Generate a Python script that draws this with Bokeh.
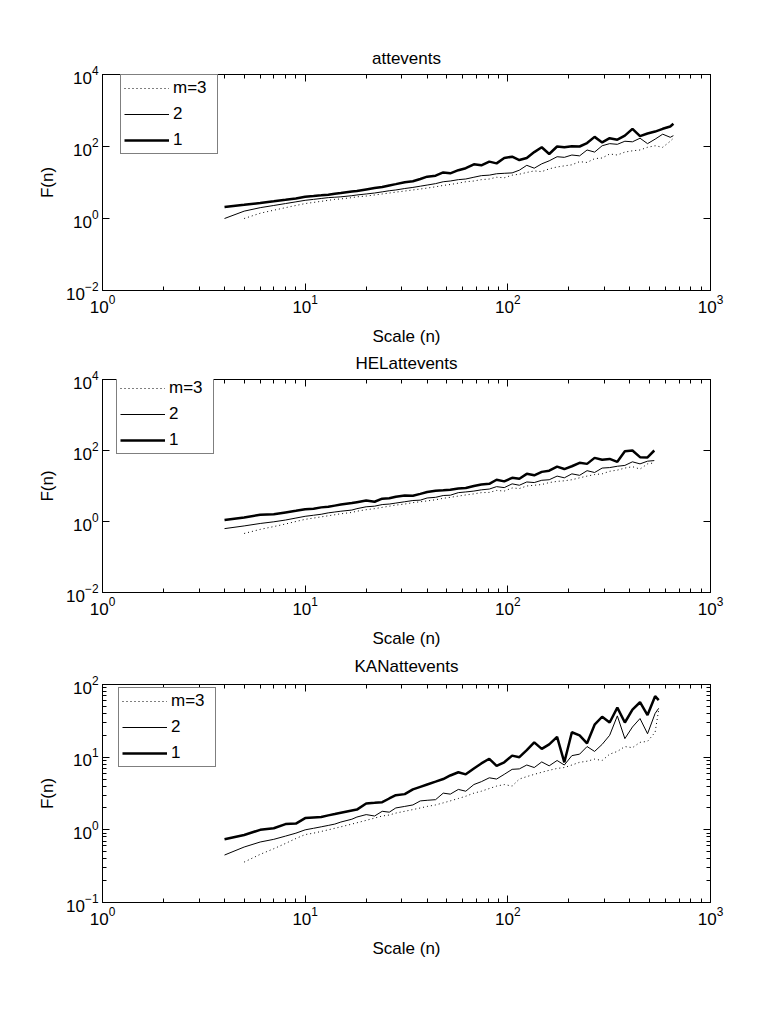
from bokeh.plotting import figure
from bokeh.models import LogAxis, FixedTicker, Legend, LegendItem, Range1d, CustomJSTickFormatter
from bokeh.layouts import column
from bokeh.embed import file_html
from bokeh.resources import INLINE

FONT = "Liberation Sans"

# ---------------- data ----------------
X_TICKS = [1, 10, 100, 1000]
X_MINOR = [2, 3, 4, 5, 6, 7, 8, 9, 20, 30, 40, 50, 60, 70, 80, 90,
           200, 300, 400, 500, 600, 700, 800, 900]

# panel 1: attevents
X1 = [4, 5, 6, 7, 8, 9, 10, 11, 12, 13, 14, 15, 17, 18, 20, 22, 24, 26, 28, 31,
      34, 37, 40, 44, 48, 52, 57, 62, 68, 74, 81, 88, 96, 105, 114, 124, 135, 147,
      160, 175, 190, 207, 226, 246, 268, 292, 318, 347, 378, 412, 449, 489, 533,
      581, 633, 656]
A_M1 = [2.1, 2.4, 2.7, 3.0, 3.3, 3.6, 4.0, 4.2, 4.4, 4.6, 4.9, 5.1, 5.6, 5.8, 6.4,
        7.0, 7.5, 8.3, 9.0, 10.2, 10.8, 12.5, 14.5, 15.5, 19, 18, 22, 25, 32, 30,
        38, 34, 48, 52, 42, 48, 70, 95, 62, 100, 95, 102, 100, 125, 185, 130, 170,
        155, 200, 310, 195, 230, 260, 310, 360, 430]
A_M2 = [1.0, 1.6, 2.0, 2.3, 2.6, 2.9, 3.2, 3.4, 3.6, 3.8, 3.9, 4.0, 4.3, 4.5, 4.8,
        5.1, 5.5, 5.9, 6.2, 6.8, 7.3, 7.9, 8.5, 9.3, 10.5, 11, 12, 12.5, 14, 15.5,
        16, 17.5, 18, 18.5, 22, 30, 25, 33, 40, 52, 50, 58, 55, 80, 70, 105, 120,
        115, 140, 135, 170, 120, 160, 220, 180, 200]
A_M3 = [1.0, 1.4, 1.7, 2.0, 2.3, 2.6, 2.8, 3.0, 3.2, 3.4, 3.5, 3.8, 4.0, 4.2, 4.5,
        4.8, 5.1, 5.4, 5.8, 6.2, 6.6, 7.0, 7.6, 8.3, 8.8, 9.6, 10.5, 11, 12, 12.5,
        14, 13.5, 16, 17, 19, 21, 20, 24, 27, 29, 31, 38, 36, 46, 48, 62, 58, 70,
        76, 80, 95, 105, 95, 140, 170]

# panel 2: HELattevents
X2 = [4, 5, 6, 7, 8, 9, 10, 11, 12, 13, 14, 15, 17, 18, 20, 22, 24, 26, 28, 31,
      34, 37, 40, 44, 48, 52, 57, 62, 68, 74, 81, 88, 96, 105, 114, 124, 135, 147,
      160, 175, 190, 207, 226, 246, 268, 292, 318, 347, 378, 412, 449, 489, 528]
B_M1 = [1.1, 1.3, 1.55, 1.6, 1.8, 2.0, 2.2, 2.3, 2.5, 2.6, 2.8, 3.0, 3.3, 3.5, 3.9,
        3.6, 4.4, 4.5, 5.0, 5.4, 5.3, 6.0, 6.8, 7.4, 7.6, 7.8, 8.5, 8.8, 10, 11,
        11.5, 15, 13.5, 17, 16, 22, 20, 25, 27, 35, 30, 36, 45, 42, 62, 55, 58, 48,
        95, 100, 65, 64, 100]
B_M2 = [0.63, 0.75, 0.88, 0.98, 1.1, 1.25, 1.4, 1.5, 1.6, 1.75, 1.85, 1.95, 2.1,
        2.3, 2.6, 2.7, 3.0, 3.1, 3.3, 3.6, 3.9, 4.0, 4.6, 4.8, 5.4, 5.5, 6.5, 6.8,
        7.2, 7.8, 8.2, 9.6, 9.0, 11.5, 10.5, 13, 12.5, 14.5, 15, 19, 17, 22, 20,
        27, 24, 32, 33, 36, 38, 48, 42, 50, 52]
B_M3 = [0.46, 0.6, 0.72, 0.85, 1.0, 1.15, 1.25, 1.35, 1.45, 1.55, 1.65, 1.8, 1.95,
        2.15, 2.3, 2.5, 2.7, 2.9, 3.1, 3.4, 3.6, 3.8, 4.1, 4.5, 4.8, 5.2, 5.6, 6.0,
        6.5, 6.6, 7.5, 7.2, 8.8, 8.5, 10, 10.5, 11, 12.5, 13.5, 14, 15, 17, 19, 21,
        22, 26, 28, 32, 35, 30, 42, 45]

# panel 3: KANattevents
X3 = [4, 5, 6, 7, 8, 9, 10, 11, 12, 13, 14, 15, 17, 18, 20, 22, 24, 26, 28, 31,
      34, 37, 40, 44, 48, 52, 57, 62, 68, 74, 81, 88, 96, 105, 114, 124, 135, 147,
      160, 175, 190, 207, 226, 246, 268, 292, 318, 347, 378, 412, 449, 489, 533, 555]
C_M1 = [0.74, 0.85, 1.0, 1.05, 1.2, 1.22, 1.45, 1.48, 1.5, 1.58, 1.65, 1.72, 1.85,
        1.9, 2.3, 2.35, 2.4, 2.7, 3.0, 3.1, 3.6, 3.9, 4.2, 4.6, 5.0, 5.6, 6.2, 5.8,
        7.0, 8.2, 9.5, 7.6, 8.5, 10.5, 10, 12.5, 16, 13, 15, 19, 8.5, 22, 20, 15.5,
        28, 36, 30, 48, 30, 45, 57, 38, 69, 61]
C_M2 = [0.45, 0.58, 0.68, 0.74, 0.82, 0.9, 1.0, 1.05, 1.1, 1.15, 1.2, 1.28, 1.4,
        1.5, 1.62, 1.55, 1.8, 1.75, 2.0, 2.1, 2.2, 2.5, 2.55, 2.6, 3.2, 3.1, 3.6,
        3.4, 4.2, 4.6, 5.2, 5.0, 5.8, 6.8, 6.9, 7.8, 7.2, 8.6, 7.6, 9.0, 7.8, 10.5,
        11, 14, 12, 15, 20, 37, 18, 26, 34, 21, 40, 47]
C_M3 = [0.36, 0.46, 0.55, 0.65, 0.76, 0.86, 0.9, 0.95, 1.0, 1.05, 1.1, 1.2, 1.25,
        1.35, 1.45, 1.55, 1.6, 1.7, 1.8, 1.9, 2.0, 2.1, 2.2, 2.35, 2.5, 2.7, 2.9,
        3.2, 3.4, 3.7, 4.0, 4.2, 4.0, 5.0, 5.4, 5.8, 6.2, 6.6, 7.0, 7.2, 7.8, 8.5,
        8.8, 9.4, 9.0, 11, 12, 14, 13.5, 16, 16.5, 22, 45]

LABELS = ["m=3", "2", "1"]


def style_axis(ax, show_labels=True):
    ax.major_tick_in = 7
    ax.major_tick_out = 0
    ax.minor_tick_in = 4
    ax.minor_tick_out = 0
    ax.axis_line_color = "black"
    ax.major_tick_line_color = "black"
    ax.minor_tick_line_color = "black"
    ax.major_label_text_font = FONT
    ax.major_label_text_color = "black"
    ax.axis_label_text_font = FONT
    ax.axis_label_text_font_style = "normal"
    ax.axis_label_text_font_size = "17px"
    ax.axis_label_text_color = "black"
    if show_labels:
        ax.major_label_text_font_size = "17px"
    else:
        ax.formatter = CustomJSTickFormatter(code="return ' ';")
        ax.major_label_text_font_size = "1px"
        ax.major_label_standoff = 0


def panel(title, x, y1, y2, y3, yr, yticks, yminor, height, top, bottom, loc, tstand):
    p = figure(width=784, height=height, x_axis_type="log", y_axis_type="log",
               x_range=Range1d(1, 1000), y_range=Range1d(*yr),
               output_backend="svg", toolbar_location=None,
               min_border_left=102, min_border_right=74,
               min_border_top=top, min_border_bottom=bottom)
    p.grid.visible = False
    p.outline_line_color = "black"
    p.background_fill_color = "white"
    p.border_fill_color = "white"

    xt = FixedTicker(ticks=X_TICKS, minor_ticks=X_MINOR)
    yt = FixedTicker(ticks=yticks, minor_ticks=yminor)
    p.xaxis[0].ticker = xt
    p.yaxis[0].ticker = yt
    p.xaxis[0].axis_label = "Scale (n)"
    p.yaxis[0].axis_label = "F(n)"
    style_axis(p.xaxis[0])
    style_axis(p.yaxis[0])
    p.xaxis[0].major_label_standoff = 4
    p.xaxis[0].axis_label_standoff = 11
    p.yaxis[0].major_label_standoff = 4
    p.yaxis[0].axis_label_standoff = 6

    ta = LogAxis(ticker=FixedTicker(ticks=X_TICKS, minor_ticks=X_MINOR))
    style_axis(ta, False)
    p.add_layout(ta, "above")
    ra = LogAxis(ticker=FixedTicker(ticks=yticks, minor_ticks=yminor))
    style_axis(ra, False)
    p.add_layout(ra, "right")

    p.title.text = title
    p.title.align = "center"
    p.title.text_font = FONT
    p.title.text_font_size = "17px"
    p.title.text_font_style = "normal"
    p.title.text_color = "black"
    p.title.standoff = tstand

    r3 = p.line(x[1:], y3, line_color="black", line_width=1, line_dash="1 3")
    r2 = p.line(x, y2, line_color="black", line_width=1)
    r1 = p.line(x, y1, line_color="black", line_width=2.5)

    leg = Legend(items=[LegendItem(label=LABELS[0], renderers=[r3]),
                        LegendItem(label=LABELS[1], renderers=[r2]),
                        LegendItem(label=LABELS[2], renderers=[r1])],
                 location=loc)
    leg.border_line_color = "black"
    leg.border_line_width = 1
    leg.background_fill_color = "white"
    leg.background_fill_alpha = 1
    leg.label_text_font = FONT
    leg.label_text_font_size = "17px"
    leg.label_text_color = "black"
    leg.padding = 3
    leg.spacing = 6
    leg.margin = 0
    leg.glyph_width = 45
    leg.glyph_height = 20
    leg.label_height = 20
    leg.label_width = 41
    leg.label_standoff = 4
    p.add_layout(leg)
    return p


p1 = panel("attevents", X1, A_M1, A_M2, A_M3, (1e-2, 1e4),
           [1e-2, 1, 1e2, 1e4], [], 348, 74, 53, (18, 136), 6)
p2 = panel("HELattevents", X2, B_M1, B_M2, B_M3, (1e-2, 1e4),
           [1e-2, 1, 1e2, 1e4], [], 302, 28, 52, (14, 138), 6)
p3 = panel("KANattevents", X3, C_M1, C_M2, C_M3, (1e-1, 1e2),
           [1e-1, 1, 10, 100],
           [0.2, 0.3, 0.4, 0.5, 0.6, 0.7, 0.8, 0.9, 2, 3, 4, 5, 6, 7, 8, 9,
            20, 30, 40, 50, 60, 70, 80, 90], 363, 33, 111, (16, 135), 9)

layout = column(p1, p2, p3, spacing=0)
open("out.html", "w").write(file_html(layout, INLINE))
